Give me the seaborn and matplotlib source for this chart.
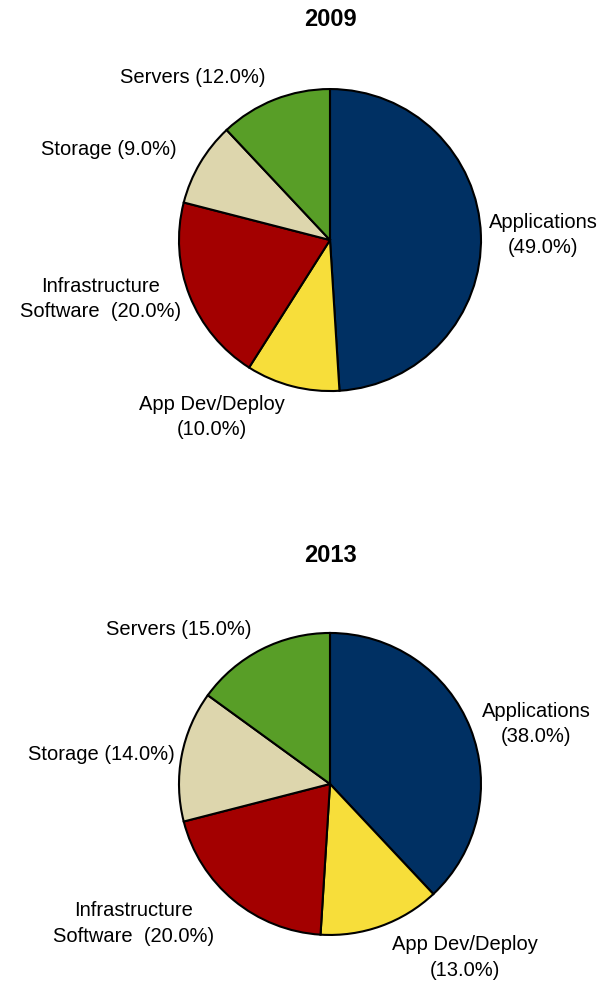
import numpy as np
import matplotlib
matplotlib.use("Agg")
import matplotlib.pyplot as plt
import seaborn as sns

# Data
categories = ["Applications", "App Dev/Deploy", "Infrastructure Software", "Storage", "Servers"]
share_2009 = [49.0, 10.0, 20.0, 9.0, 12.0]
share_2013 = [38.0, 13.0, 20.0, 14.0, 15.0]
years = ["2009", "2013"]

label_fmt = {
    "Applications": "Applications\n({:.1f}%)",
    "App Dev/Deploy": "App Dev/Deploy\n({:.1f}%)",
    "Infrastructure Software": "Infrastructure\nSoftware  ({:.1f}%)",
    "Storage": "Storage ({:.1f}%)",
    "Servers": "Servers ({:.1f}%)",
}

# label distance (in radii) per wedge, per chart
label_dist = {
    "2009": [1.05, 1.21, 1.06, 1.18, 1.16],
    "2013": [1.08, 1.22, 1.20, 1.05, 1.15],
}

sns.set_style("white")
plt.rcParams["font.family"] = ["Liberation Sans", "DejaVu Sans"]
colors = sns.color_palette(["#003063", "#F7DE3A", "#A30000", "#DDD6AD", "#589E27"])

fig = plt.figure(figsize=(6.08, 9.85), dpi=100)

# axes boxes: [left, bottom, width, height] in figure fraction
boxes = [[0.2944, 0.603, 0.4967, 0.3066], [0.2944, 0.0508, 0.4967, 0.3066]]
title_y = [1 - 20 / 985, 1 - 555 / 985]

for year, vals, box, ty in zip(years, [share_2009, share_2013], boxes, title_y):
    ax = fig.add_axes(box)
    labels = [label_fmt[c].format(v) for c, v in zip(categories, vals)]
    wedges, texts = ax.pie(
        vals, labels=labels, colors=colors, startangle=90, counterclock=False,
        labeldistance=1.1,
        wedgeprops={"edgecolor": "black", "linewidth": 1.5},
        textprops={"fontsize": 14.5, "multialignment": "center", "color": "black",
                   "linespacing": 1.45},
    )
    for w, t, d in zip(wedges, texts, label_dist[year]):
        ang = np.deg2rad((w.theta1 + w.theta2) / 2)
        t.set_position((d * np.cos(ang), d * np.sin(ang)))
        t.set_va("center")
    ax.set_xlim(-1, 1)
    ax.set_ylim(-1, 1)
    ax.set_aspect("equal")
    ax.axis("off")
    fig.text(0.543, ty, year, ha="center", va="center", fontsize=17,
             fontweight="bold", color="black")

fig.savefig("out.png", dpi=100, facecolor="white")
